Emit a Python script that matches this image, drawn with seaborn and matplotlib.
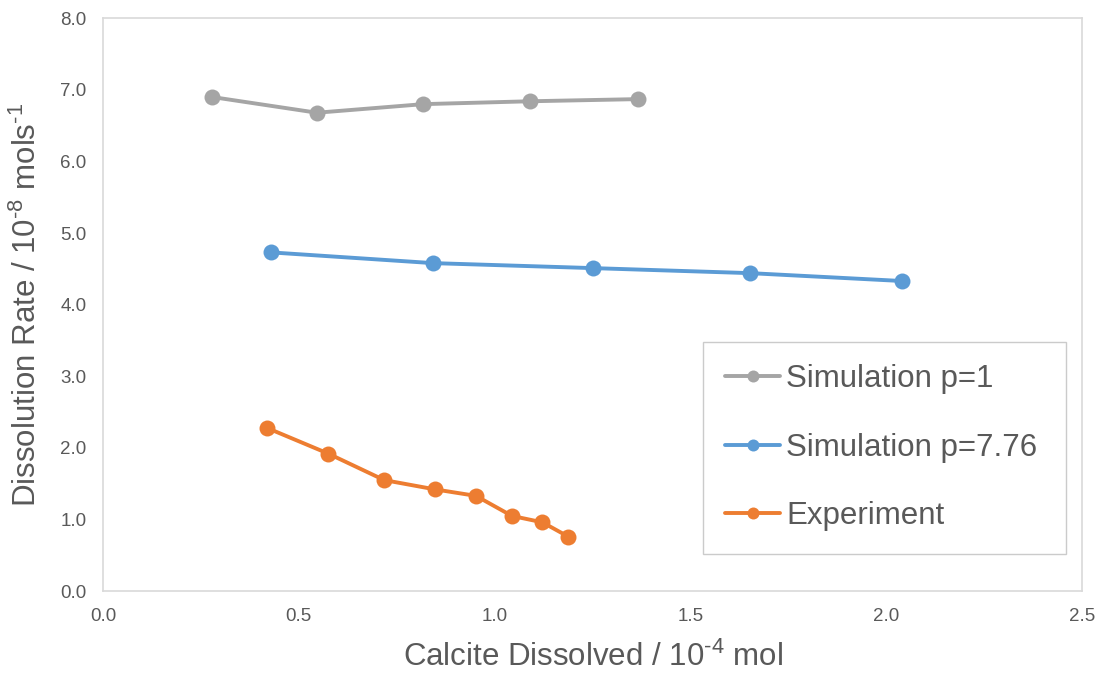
import numpy as np
import pandas as pd
import matplotlib
matplotlib.use("Agg")
import matplotlib.pyplot as plt
import seaborn as sns

sim1_x = [0.278, 0.546, 0.818, 1.090, 1.365]
sim1_y = [6.90, 6.68, 6.80, 6.84, 6.87]
sim776_x = [0.428, 0.842, 1.252, 1.652, 2.040]
sim776_y = [4.73, 4.58, 4.51, 4.44, 4.33]
exp_x = [0.418, 0.575, 0.718, 0.848, 0.952, 1.044, 1.122, 1.188]
exp_y = [2.28, 1.92, 1.55, 1.42, 1.33, 1.05, 0.96, 0.76]
series_names = ["Simulation p=1", "Simulation p=7.76", "Experiment"]
colors = ["#A5A5A5", "#5B9BD5", "#ED7D31"]
xticks = [0.0, 0.5, 1.0, 1.5, 2.0, 2.5]
yticks = [0.0, 1.0, 2.0, 3.0, 4.0, 5.0, 6.0, 7.0, 8.0]

df = pd.concat([
    pd.DataFrame({"x": sim1_x, "y": sim1_y, "series": series_names[0]}),
    pd.DataFrame({"x": sim776_x, "y": sim776_y, "series": series_names[1]}),
    pd.DataFrame({"x": exp_x, "y": exp_y, "series": series_names[2]}),
], ignore_index=True)

sns.set_theme(style="white")
plt.rcParams['font.family'] = ['Liberation Sans', 'DejaVu Sans']
plt.rcParams['mathtext.fontset'] = 'custom'
plt.rcParams['mathtext.rm'] = 'Liberation Sans'
plt.rcParams['mathtext.it'] = 'Liberation Sans'

fig = plt.figure(figsize=(11.04, 6.74), dpi=100)
ax = fig.add_axes([0.0933, 0.123, 0.887, 0.850])

sns.lineplot(data=df, x="x", y="y", hue="series", hue_order=series_names,
             palette=dict(zip(series_names, colors)), marker="o", markersize=11.5,
             markeredgewidth=0, linewidth=2.8, sort=False, estimator=None, ax=ax)

ax.set_xlim(0, 2.5)
ax.set_ylim(0, 8)
ax.set_xticks(xticks)
ax.set_yticks(yticks)
ax.set_xticklabels([f"{v:.1f}" for v in xticks])
ax.set_yticklabels([f"{v:.1f}" for v in yticks])
ax.tick_params(axis="both", length=0, labelsize=13.5, colors="#595959", pad=12)
for s in ax.spines.values():
    s.set_color("#D9D9D9")
    s.set_linewidth(1.2)

ax.set_xlabel(r"Calcite Dissolved / 10$^{\text{-4}}$ mol", fontsize=22.5, color="#595959", labelpad=12)
ax.set_ylabel(r"Dissolution Rate / 10$^{\text{-8}}$ mols$^{\text{-1}}$", fontsize=22.5, color="#595959", labelpad=12)

handles, labels = ax.get_legend_handles_labels()
leg = ax.legend(handles, labels, loc="upper left",
                bbox_to_anchor=(0.6365, 0.4930, 0.329, 0.0), bbox_transform=fig.transFigure,
                mode="expand", borderaxespad=0, fontsize=22.5, frameon=True, fancybox=False,
                handlelength=1.75, handletextpad=0.2, labelspacing=1.23, borderpad=0.72,
                markerscale=0.75)
leg.get_frame().set_edgecolor("#BFBFBF")
leg.get_frame().set_linewidth(1.0)
for t in leg.get_texts():
    t.set_color("#595959")

fig.savefig("out.png", dpi=100)
